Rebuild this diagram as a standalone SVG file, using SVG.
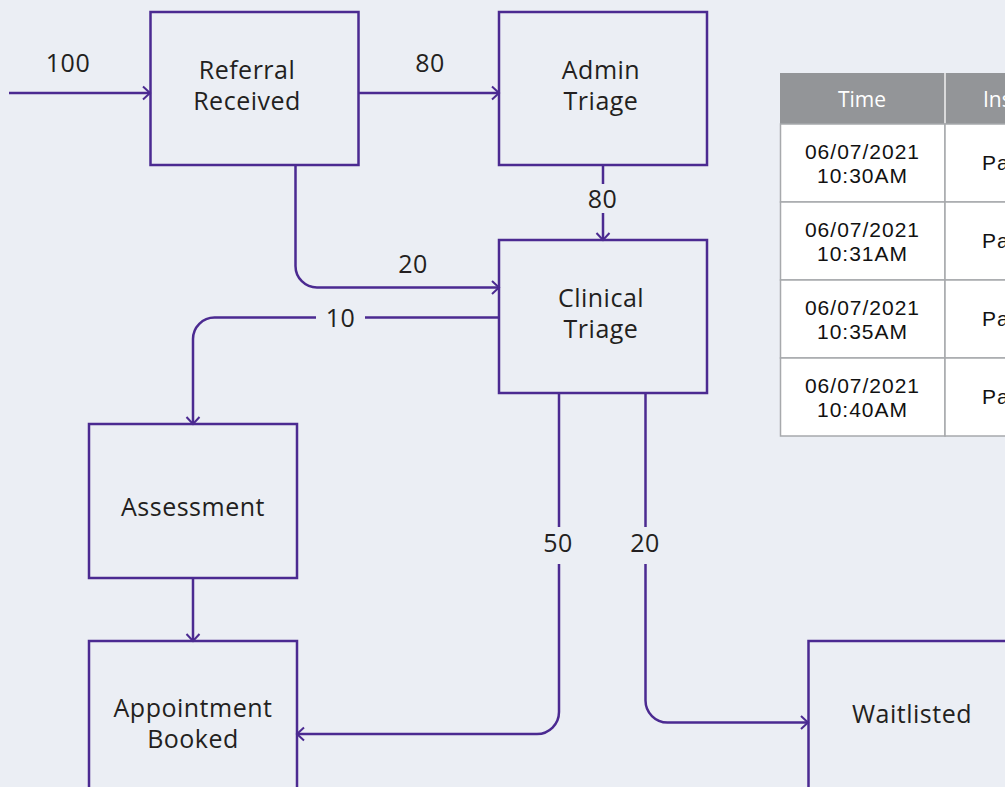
<svg xmlns="http://www.w3.org/2000/svg" width="1005" height="787" viewBox="0 0 1005 787">
<defs>
<style>
.bg{fill:#EBEEF4}
.node{fill:none;stroke:#4B2A91;stroke-width:2.5}
.lbl{font-family:"Open Sans","Noto Sans","Liberation Sans",sans-serif;font-size:25px;letter-spacing:0.5px;fill:#231F20;text-anchor:middle}
.conn{fill:none;stroke:#4B2A91;stroke-width:2.5}
.cell{fill:#FFFFFF;stroke:#A7A9AC;stroke-width:1.5}
.hdr{fill:#939598}
.htxt{font-family:"Open Sans","Noto Sans","Liberation Sans",sans-serif;font-size:21px;fill:#FFFFFF;text-anchor:middle}
.ctxt{font-family:"Liberation Sans","Open Sans",sans-serif;font-size:21px;letter-spacing:1px;fill:#111111;text-anchor:middle}
.ctxtl{font-family:"Liberation Sans","Open Sans",sans-serif;font-size:21px;letter-spacing:1px;fill:#111111}
</style>
<marker id="arr" markerUnits="userSpaceOnUse" markerWidth="20" markerHeight="20" refX="0" refY="0" viewBox="-10 -10 20 20" orient="auto">
<path d="M-7,-6.5 L0,0 L-7,6.5" fill="none" stroke="#4B2A91" stroke-width="2"/>
</marker>
</defs>
<rect class="bg" x="0" y="0" width="1005" height="787"/>

<g id="table">
<rect class="hdr" x="780" y="73" width="240" height="51"/>
<line x1="945" y1="73" x2="945" y2="124" stroke="#F2F2F2" stroke-width="1.5"/>
<text class="htxt" x="862" y="107">Time</text>
<text class="htxt" x="983" y="107" style="text-anchor:start">Ins</text>
<rect class="cell" x="780.5" y="124" width="164.5" height="78"/>
<rect class="cell" x="945" y="124" width="80" height="78"/>
<rect class="cell" x="780.5" y="202" width="164.5" height="78"/>
<rect class="cell" x="945" y="202" width="80" height="78"/>
<rect class="cell" x="780.5" y="280" width="164.5" height="78"/>
<rect class="cell" x="945" y="280" width="80" height="78"/>
<rect class="cell" x="780.5" y="358" width="164.5" height="78"/>
<rect class="cell" x="945" y="358" width="80" height="78"/>
<text class="ctxt" x="862.5" y="159">06/07/2021</text>
<text class="ctxt" x="862.5" y="183">10:30AM</text>
<text class="ctxtl" x="982" y="170">Pa</text>
<text class="ctxt" x="862.5" y="237">06/07/2021</text>
<text class="ctxt" x="862.5" y="261">10:31AM</text>
<text class="ctxtl" x="982" y="248">Pa</text>
<text class="ctxt" x="862.5" y="315">06/07/2021</text>
<text class="ctxt" x="862.5" y="339">10:35AM</text>
<text class="ctxtl" x="982" y="326">Pa</text>
<text class="ctxt" x="862.5" y="393">06/07/2021</text>
<text class="ctxt" x="862.5" y="417">10:40AM</text>
<text class="ctxtl" x="982" y="404">Pa</text>
</g>

<g id="connectors">
<path class="conn" d="M9,93 H150" marker-end="url(#arr)"/>
<text class="lbl" x="68" y="72">100</text>
<path class="conn" d="M359,93 H499" marker-end="url(#arr)"/>
<text class="lbl" x="430" y="72">80</text>
<path class="conn" d="M603,165 V184"/>
<path class="conn" d="M603,213 V240" marker-end="url(#arr)"/>
<text class="lbl" x="602.5" y="208">80</text>
<path class="conn" d="M295.5,165 V266 A21.5,21.5 0 0 0 317,287.5 H499" marker-end="url(#arr)"/>
<text class="lbl" x="413" y="273">20</text>
<path class="conn" d="M499,317.5 H365"/>
<path class="conn" d="M316,317.5 H214.5 A21.5,21.5 0 0 0 193,339 V424" marker-end="url(#arr)"/>
<text class="lbl" x="340.5" y="326.5">10</text>
<path class="conn" d="M193,578 V641" marker-end="url(#arr)"/>
<path class="conn" d="M559,393 V527"/>
<path class="conn" d="M559,564 V712 A22,22 0 0 1 537,734 H297" marker-end="url(#arr)"/>
<text class="lbl" x="558" y="552">50</text>
<path class="conn" d="M645.5,393 V527"/>
<path class="conn" d="M645.5,564 V700.5 A22,22 0 0 0 667.5,722.5 H808" marker-end="url(#arr)"/>
<text class="lbl" x="645" y="552">20</text>
</g>

<g id="node-referral">
<rect class="node" x="150.5" y="12" width="208" height="153"/>
<text class="lbl" x="247" y="79">Referral</text>
<text class="lbl" x="247" y="110">Received</text>
</g>
<g id="node-admin">
<rect class="node" x="499" y="12" width="208" height="153"/>
<text class="lbl" x="601" y="79">Admin</text>
<text class="lbl" x="601" y="110">Triage</text>
</g>
<g id="node-clinical">
<rect class="node" x="499" y="240" width="208" height="153"/>
<text class="lbl" x="601" y="307">Clinical</text>
<text class="lbl" x="601" y="338">Triage</text>
</g>
<g id="node-assessment">
<rect class="node" x="89" y="424" width="208" height="154"/>
<text class="lbl" x="193" y="516">Assessment</text>
</g>
<g id="node-appointment">
<rect class="node" x="89" y="641" width="208" height="172"/>
<text class="lbl" x="193" y="717">Appointment</text>
<text class="lbl" x="193" y="748">Booked</text>
</g>
<g id="node-waitlisted">
<rect class="node" x="808.5" y="641" width="208" height="154"/>
<text class="lbl" x="912" y="723">Waitlisted</text>
</g>
</svg>
